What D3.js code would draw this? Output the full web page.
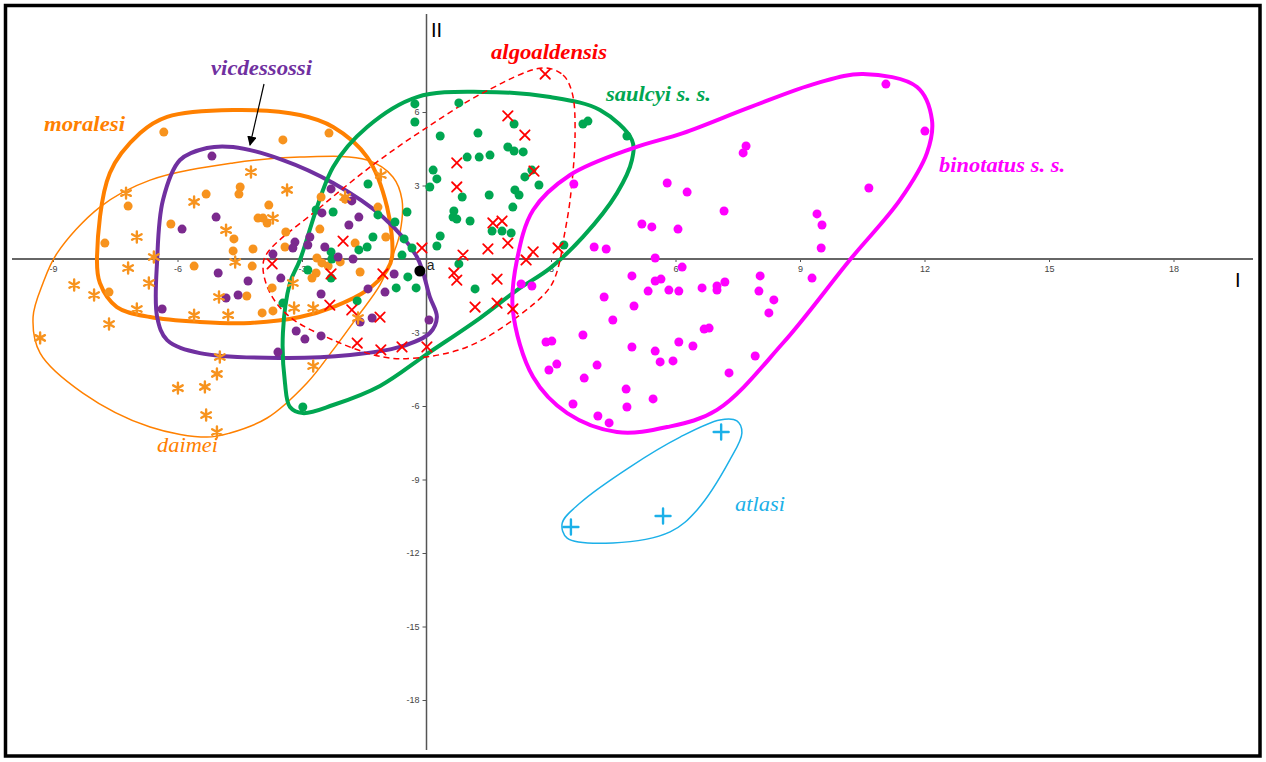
<!DOCTYPE html>
<html>
<head>
<meta charset="utf-8">
<script src="https://cdnjs.cloudflare.com/ajax/libs/d3/7.8.5/d3.min.js"></script>
<style>
  html, body { margin: 0; padding: 0; background: #fff; }
  svg { display: block; }
  .tick text { font-family: Arial, "Liberation Sans", sans-serif; font-size: 9px; fill: #444; }
  .tick line { stroke: #555; }
  .lab { font-family: "Liberation Serif", "Times New Roman", serif; font-style: italic; font-size: 22px; }
</style>
</head>
<body>
<script>
// ---- data (PCA scores, axis I / axis II) ----
var xTicks = [-9, -6, -3, 3, 6, 9, 12, 15, 18];
var yTicks = [6, 3, -3, -6, -9, -12, -15, -18];

var moralesi = [[-6.33,5.18],[-3.46,4.86],[-2.35,5.14],[-4.49,2.94],[-4.52,2.65],[-5.31,2.65],[-7.19,2.16],
  [-3.80,2.20],[-4.06,1.67],[-3.94,1.67],[-3.84,1.47],[-6.16,1.43],[-3.39,1.10],[-4.64,0.82],[-7.75,0.65],
  [-4.66,0.33],[-4.18,0.41],[-3.41,0.49],[-2.54,2.53],[-1.96,2.45],[-1.17,2.12],[-2.57,1.22],[-0.98,0.90],
  [-1.72,0.65],[-5.60,-0.29],[-4.20,-0.29],[-7.65,-1.35],[-4.33,-1.51],[-3.72,-1.18],[-3.96,-2.20],[-3.70,-2.12],
  [-2.64,0.04],[-2.52,-0.16],[-2.37,-0.29],[-2.08,-0.12],[-2.66,-0.57],[-2.76,-0.78],[-1.60,-0.53]];

var daimei = [[-4.23,3.55],[-3.36,2.82],[-7.24,2.69],[-5.60,2.33],[-3.70,1.67],[-6.98,0.90],[-4.83,1.18],
  [-1.10,3.43],[-6.57,0.08],[-4.61,-0.12],[-7.19,-0.37],[-8.49,-1.06],[-8.01,-1.47],[-6.69,-0.98],[-6.98,-2.04],
  [-7.65,-2.65],[-5.60,-2.29],[-4.78,-2.29],[-5.00,-1.55],[-9.31,-3.22],[-4.98,-4.00],[-5.05,-4.69],[-5.34,-5.22],
  [-5.99,-5.27],[-5.31,-6.37],[-5.05,-7.06],[-2.73,-4.37],[-3.22,-0.98],[-2.73,-2.00],[-3.19,-2.00],[-1.65,-2.41],
  [-1.96,2.53]];

var vicdessossi = [[-5.17,4.20],[-5.07,1.71],[-5.89,1.22],[-2.30,2.86],[-1.80,2.37],[-1.63,1.71],[-2.52,1.88],
  [-1.87,1.39],[-2.81,0.90],[-3.17,0.69],[-2.86,0.57],[-3.22,0.45],[-2.45,0.49],[-3.70,0.20],[-2.13,0.08],
  [-1.77,0.00],[-5.02,-0.57],[-4.30,-0.90],[-4.54,-1.47],[-4.83,-1.59],[-6.37,-2.04],[-3.51,-0.78],[-2.54,-1.43],
  [-3.14,-2.94],[-2.93,-3.27],[-2.54,-3.14],[-3.58,-3.80],[-1.41,-1.22],[-1.00,-1.35],[-0.78,-0.61],[-1.31,-2.41],
  [-1.60,-2.57],[0.06,-2.49]];

var saulcyi = [[-0.28,6.33],[-0.28,5.59],[0.78,6.37],[0.33,5.02],[1.24,5.14],[1.96,4.57],[2.11,4.41],[2.33,4.37],
  [2.11,5.51],[0.98,4.16],[1.27,4.16],[1.53,4.24],[3.77,5.51],[3.89,5.63],[4.83,5.02],[0.16,3.63],[0.25,3.27],
  [0.08,2.94],[0.86,2.53],[1.51,2.61],[2.13,2.82],[2.23,2.61],[2.37,3.35],[2.71,3.02],[2.54,3.63],[0.66,1.96],
  [0.64,1.71],[0.73,1.63],[1.05,1.55],[2.08,2.12],[1.58,1.14],[1.82,1.14],[2.04,1.06],[0.33,0.94],[0.25,0.53],
  [0.78,-0.20],[1.17,-1.22],[3.31,0.57],[-1.41,3.06],[-0.47,1.92],[-0.76,1.51],[-1.17,1.80],[-1.29,0.90],
  [-1.43,0.49],[-1.63,0.37],[-0.54,0.82],[-0.35,0.45],[-0.59,0.16],[-2.25,1.92],[-2.66,2.00],[-2.30,0.29],
  [-2.28,0.00],[-2.86,-0.45],[-0.45,-0.73],[-0.73,-1.18],[-0.25,-1.18],[-1.67,-1.71],[-3.46,-1.80],[-2.98,-6.04],
  [-2.30,-0.78]];

var algoaldensis = [[2.86,7.55],[1.96,5.84],[2.37,5.06],[0.73,3.92],[0.73,2.94],[2.59,3.59],[1.60,1.47],[1.82,1.55],
  [-2.01,0.73],[1.96,0.65],[1.48,0.41],[0.88,0.16],[-0.11,0.45],[3.17,0.45],[2.57,0.29],[2.40,-0.04],[0.66,-0.57],
  [0.73,-0.86],[1.70,-0.82],[1.17,-1.96],[1.70,-1.80],[2.08,-2.04],[-1.05,-0.61],[-2.30,-0.61],[-3.72,-0.20],
  [-2.33,-1.88],[-1.80,-2.08],[-1.12,-2.37],[-1.67,-3.43],[-1.10,-3.71],[-0.59,-3.59],[0.01,-3.59]];

var binotatus = [[11.07,7.14],[12.01,5.22],[7.70,4.61],[7.63,4.33],[10.66,2.90],[5.80,3.10],[6.28,2.73],[7.17,1.96],
  [3.55,3.06],[9.41,1.84],[9.53,1.39],[5.19,1.43],[5.43,1.31],[6.06,1.22],[9.51,0.45],[4.04,0.49],[4.33,0.41],
  [5.51,0.04],[6.16,-0.33],[9.29,-0.78],[4.95,-0.69],[5.51,-0.90],[5.65,-0.82],[5.34,-1.31],[5.84,-1.27],
  [6.08,-1.31],[6.64,-1.18],[7.00,-1.10],[7.00,-1.27],[7.19,-0.94],[8.04,-0.69],[8.01,-1.31],[8.37,-1.67],
  [8.25,-2.20],[4.28,-1.55],[5.00,-1.92],[4.49,-2.49],[6.69,-2.86],[6.81,-2.82],[3.77,-3.10],[2.88,-3.39],
  [3.02,-3.35],[4.95,-3.59],[6.08,-3.39],[6.42,-3.55],[5.51,-3.76],[5.63,-4.20],[5.94,-4.16],[7.92,-3.96],
  [3.14,-4.29],[2.95,-4.53],[4.11,-4.33],[3.80,-4.86],[7.29,-4.65],[4.81,-5.31],[4.83,-6.04],[5.46,-5.71],
  [3.53,-5.92],[4.13,-6.41],[4.40,-6.69],[2.28,-1.02],[2.54,-1.10]];

var atlasi = [[7.10,-7.06],[5.70,-10.49],[3.48,-10.94]];
var pointA = [[-0.16,-0.49]];

// group envelopes, in the same axis units
var hullMoralesi = [[-7.94,0.04],[-7.63,3.51],[-6.90,5.14],[-6.25,5.80],[-4.66,6.08],[-3.05,5.88],[-2.25,5.39],
  [-1.43,4.16],[-0.95,2.12],[-0.83,0.08],[-0.95,-0.45],[-1.43,-1.27],[-2.25,-1.96],[-3.05,-2.37],[-4.25,-2.61],
  [-5.46,-2.57],[-6.66,-2.37],[-7.46,-1.96],[-7.87,-0.98]];
var hullDaimei = [[-8.90,0.24],[-7.87,2.12],[-6.66,3.22],[-4.66,3.92],[-3.05,4.16],[-1.43,4.04],[-0.81,3.35],
  [-0.59,2.41],[-0.64,1.06],[-0.81,0.16],[-1.12,-1.06],[-1.67,-2.37],[-2.25,-3.71],[-2.88,-5.06],[-3.84,-6.49],
  [-4.73,-7.10],[-5.29,-7.27],[-6.66,-6.86],[-8.28,-5.47],[-9.31,-3.84],[-9.48,-2.37],[-9.24,-0.98]];
var hullVicdessossi = [[-6.49,-0.04],[-6.35,2.41],[-5.94,4.04],[-5.29,4.53],[-4.66,4.57],[-3.46,4.04],[-2.25,3.10],
  [-1.05,1.71],[-0.23,0.08],[0.08,-1.55],[0.25,-2.37],[0.08,-3.02],[-0.64,-3.59],[-1.84,-3.92],[-3.46,-4.04],
  [-5.46,-3.84],[-6.25,-3.31],[-6.49,-2.37]];
var hullSaulcyi = [[-3.05,-0.04],[-2.25,3.76],[-1.43,5.39],[-0.23,6.61],[1.36,6.82],[2.98,6.61],[4.18,6.08],
  [4.95,4.86],[4.95,4.04],[4.59,2.69],[3.77,0.90],[2.98,-0.37],[2.18,-1.27],[1.29,-2.41],[0.01,-3.88],
  [-1.12,-5.18],[-2.25,-5.96],[-2.98,-6.29],[-3.29,-6.04],[-3.41,-5.06],[-3.46,-3.02],[-3.29,-0.98]];
var hullAlgoaldensis = [[2.81,7.80],[3.29,7.51],[3.51,6.78],[3.58,5.14],[3.46,2.41],[3.27,0.49],[3.22,-0.04],
  [2.98,-1.14],[2.18,-2.37],[0.98,-3.59],[-0.23,-4.04],[-1.05,-4.00],[-2.25,-3.31],[-3.29,-2.37],[-3.77,-1.39],
  [-3.94,-0.33],[-3.84,0.24],[-2.64,2.00],[-1.29,3.84],[-0.08,5.27],[1.36,6.78]];
var hullBinotatus = [[10.52,7.55],[11.82,7.02],[12.18,5.67],[12.06,4.33],[11.41,2.41],[10.20,-0.04],[8.59,-3.43],
  [7.00,-6.16],[5.80,-6.86],[4.59,-7.06],[3.39,-6.29],[2.57,-4.82],[2.08,-2.08],[2.18,-0.04],[2.57,2.00],
  [3.46,3.43],[4.98,4.53],[6.18,5.14],[7.80,6.20],[9.41,7.18]];
var hullAtlasi = [[7.07,-6.57],[7.48,-6.61],[7.60,-7.10],[7.31,-8.20],[6.52,-10.24],[5.87,-11.14],[4.49,-11.59],
  [3.39,-11.39],[3.27,-10.78],[3.70,-9.96],[4.90,-8.49],[6.11,-7.27]];

// ---- layout ----
var W = 1266, H = 762;
var svg = d3.select("body").append("svg").attr("width", W).attr("height", H);

var x = d3.scaleLinear().domain([-10, 20]).range([11.5, 1256.5]);
var y = d3.scaleLinear().domain([-20, 10]).range([749, 14]);

var C = {
  orange: "#f7931e", orangeLine: "#ff8000", purple: "#7b2a8e", purpleLine: "#7030a0",
  green: "#00a651", red: "#ff0000", magenta: "#ff00ff", blue: "#1cb0e8"
};

// frame
svg.append("rect").attr("x", 5.5).attr("y", 5.5).attr("width", W - 4 - 7.5).attr("height", H - 4 - 7.5)
  .attr("fill", "#fff").attr("stroke", "#000").attr("stroke-width", 3.5);

// axes
var fmt = function(d) { return String(d); };
var gx = svg.append("g").attr("transform", "translate(0," + y(0) + ")")
  .call(d3.axisBottom(x).tickValues(xTicks).tickFormat(fmt).tickSize(3).tickPadding(4));
var gy = svg.append("g").attr("transform", "translate(" + x(0) + ",0)")
  .call(d3.axisLeft(y).tickValues(yTicks).tickFormat(fmt).tickSize(4).tickPadding(3));
gx.select(".domain").remove();
gy.select(".domain").remove();
svg.append("line").attr("x1", 12).attr("x2", 1253).attr("y1", y(0)).attr("y2", y(0))
  .attr("stroke", "#666").attr("stroke-width", 2);
svg.append("line").attr("x1", x(0)).attr("x2", x(0)).attr("y1", 14).attr("y2", 750)
  .attr("stroke", "#555").attr("stroke-width", 1.5);

svg.append("text").attr("x", 431).attr("y", 37).text("II")
  .attr("font-family", "Arial, 'Liberation Sans', sans-serif").attr("font-size", 20).attr("fill", "#000");
svg.append("text").attr("x", 1235).attr("y", 287).text("I")
  .attr("font-family", "Arial, 'Liberation Sans', sans-serif").attr("font-size", 20).attr("fill", "#000");

// envelopes
var hullLine = d3.line().x(function(d) { return x(d[0]); }).y(function(d) { return y(d[1]); })
  .curve(d3.curveCatmullRomClosed.alpha(0.5));

function drawHull(data, color, width, dash) {
  svg.append("path").datum(data).attr("d", hullLine)
    .attr("fill", "none").attr("stroke", color).attr("stroke-width", width)
    .attr("stroke-dasharray", dash || null);
}
drawHull(hullDaimei, C.orangeLine, 1.5);
drawHull(hullMoralesi, C.orangeLine, 4);
drawHull(hullVicdessossi, C.purpleLine, 4);
drawHull(hullSaulcyi, C.green, 4);
drawHull(hullAlgoaldensis, C.red, 1.5, "6,4");
drawHull(hullBinotatus, C.magenta, 4);
drawHull(hullAtlasi, C.blue, 1.5);

// points
function dots(data, color, r) {
  svg.append("g").selectAll("circle").data(data).enter().append("circle")
    .attr("cx", function(d) { return x(d[0]); })
    .attr("cy", function(d) { return y(d[1]); })
    .attr("r", r).attr("fill", color);
}
function marks(data, type, size, color, width) {
  var sym = d3.symbol().type(type).size(size);
  svg.append("g").selectAll("path").data(data).enter().append("path")
    .attr("d", sym)
    .attr("transform", function(d) { return "translate(" + x(d[0]) + "," + y(d[1]) + ")"; })
    .attr("fill", "none").attr("stroke", color).attr("stroke-width", width)
    .attr("stroke-linecap", "round");
}
dots(moralesi, C.orange, 4.5);
dots(saulcyi, C.green, 4.5);
dots(vicdessossi, C.purple, 4.5);
dots(binotatus, C.magenta, 4.5);
marks(daimei, d3.symbolAsterisk, 85, C.orange, 2.4);
marks(algoaldensis, d3.symbolTimes, 60, C.red, 1.8);
marks(atlasi, d3.symbolPlus, 75, C.blue, 2.4);
dots(pointA, "#000", 5.5);
svg.append("text").attr("x", x(pointA[0][0]) + 7).attr("y", y(pointA[0][1]) - 1).text("a")
  .attr("font-family", "Arial, 'Liberation Sans', sans-serif").attr("font-size", 14).attr("fill", "#222");

// group labels (w = width of the label as printed)
var labels = [
  {t: "moralesi", x: 44, y: 131, w: 81, c: C.orangeLine, b: true},
  {t: "vicdessossi", x: 211, y: 75, w: 101, c: C.purpleLine, b: true},
  {t: "algoaldensis", x: 491, y: 59, w: 116, c: C.red, b: true},
  {t: "saulcyi s. s.", x: 606, y: 101, w: 105, c: C.green, b: true},
  {t: "binotatus s. s.", x: 939, y: 172, w: 126, c: C.magenta, b: true},
  {t: "daimei", x: 157, y: 452, w: 61, c: C.orangeLine, b: false},
  {t: "atlasi", x: 735, y: 511, w: 50, c: C.blue, b: false}
];
svg.append("g").selectAll("text").data(labels).enter().append("text")
  .attr("class", "lab")
  .attr("x", function(d) { return d.x; }).attr("y", function(d) { return d.y; })
  .attr("textLength", function(d) { return d.w; })
  .attr("lengthAdjust", "spacingAndGlyphs")
  .attr("fill", function(d) { return d.c; })
  .attr("font-weight", function(d) { return d.b ? "bold" : "normal"; })
  .text(function(d) { return d.t; });

// arrow to the vicdessossi envelope
svg.append("defs").append("marker").attr("id", "ah").attr("viewBox", "0 0 10 10")
  .attr("refX", 9).attr("refY", 5).attr("markerWidth", 8).attr("markerHeight", 8).attr("orient", "auto")
  .append("path").attr("d", "M0,0L10,5L0,10z").attr("fill", "#000");
svg.append("line").attr("x1", 264).attr("y1", 84).attr("x2", 250).attr("y2", 145)
  .attr("stroke", "#000").attr("stroke-width", 1.2).attr("marker-end", "url(#ah)");
</script>
</body>
</html>
